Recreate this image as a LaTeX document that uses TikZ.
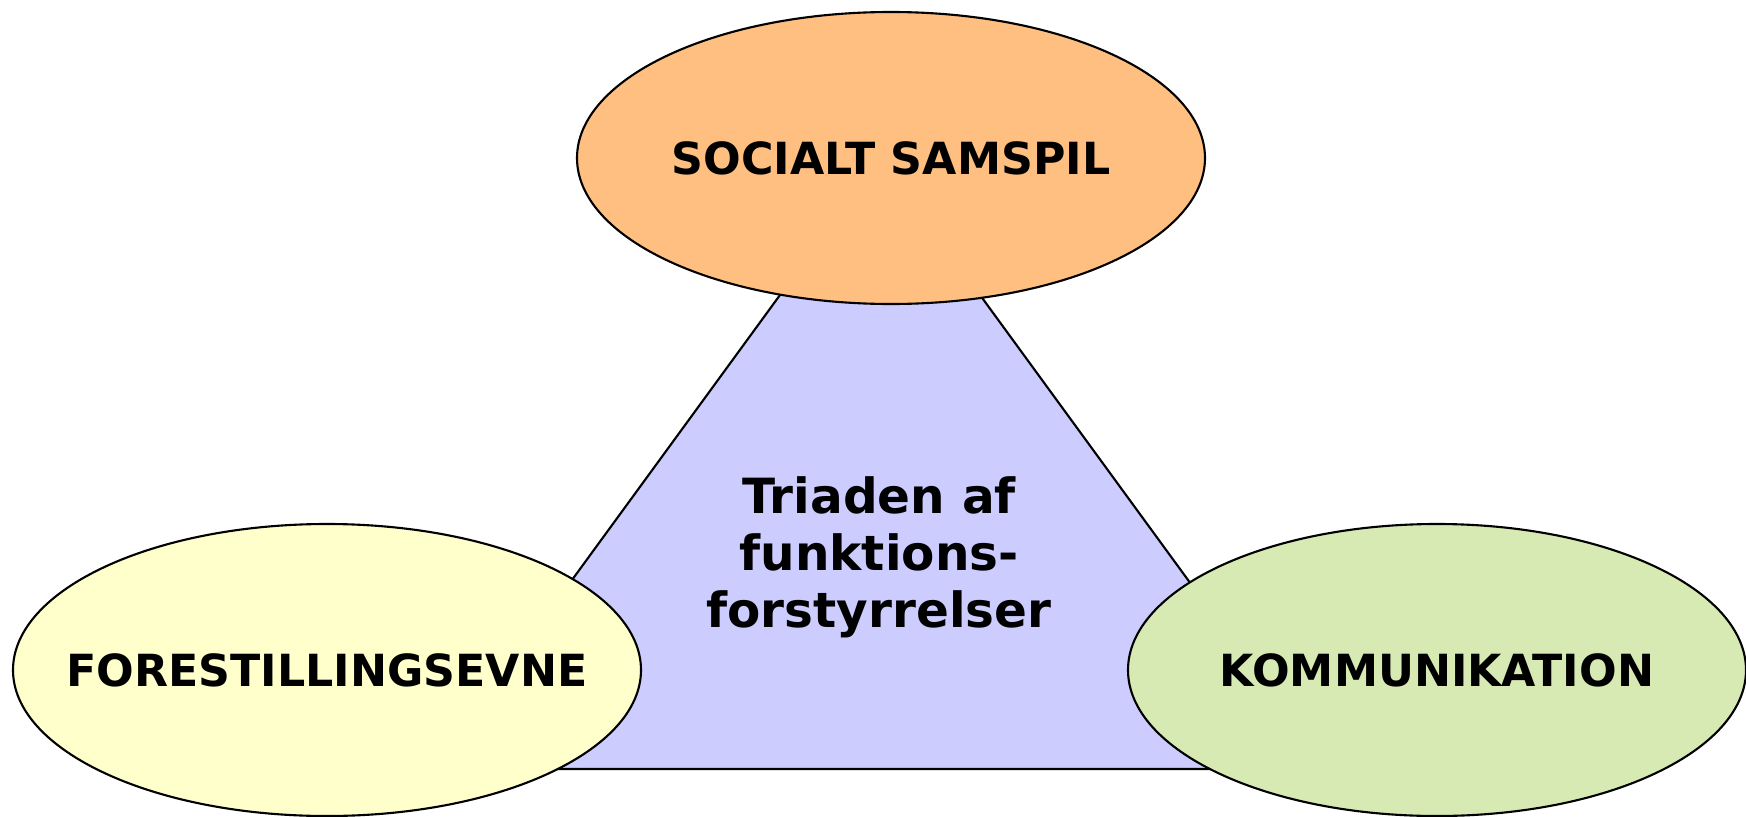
\documentclass[tikz,border=0pt]{standalone}
\usepackage{fontspec}
\setmainfont{DejaVu Sans}
\usetikzlibrary{shapes.geometric}

\definecolor{samspil}{RGB}{255,191,128}
\definecolor{forestil}{RGB}{255,255,204}
\definecolor{kommun}{RGB}{216,234,180}
\definecolor{triade}{RGB}{204,204,255}

\tikzset{
    area/.style={ellipse, draw=black, line width=0.6pt, inner sep=0pt,
        minimum width=6.28cm, minimum height=2.92cm,
        label={[font=\fontsize{12.6}{14}\selectfont\bfseries]center:#1}},
}

\begin{document}
\begin{tikzpicture}

    \useasboundingbox (0, 0) rectangle (17.46, 8.16);

    % Triangle
    \coordinate (apex) at (8.80, 6.58);
    \coordinate (lcorner) at (4.34, 0.47);
    \coordinate (rcorner) at (13.26, 0.47);
    \draw [fill=triade, line width=0.6pt] (lcorner) -- (rcorner) -- (apex) -- cycle;
    \node [align=center, font=\fontsize{13.8}{16.2}\selectfont\bfseries] (triad) at (8.79, 2.59)
        {Triaden af\\funktions-\\forstyrrelser};

    % Ellipses
    \node [area=SOCIALT SAMSPIL, fill=samspil] (social) at (8.91, 6.58) {};
    \node [area=FORESTILLINGSEVNE, fill=forestil] (imagin) at (3.27, 1.46) {};
    \node [area=KOMMUNIKATION, fill=kommun, minimum width=6.18cm] (commun) at (14.37, 1.46) {};

\end{tikzpicture}
\end{document}
